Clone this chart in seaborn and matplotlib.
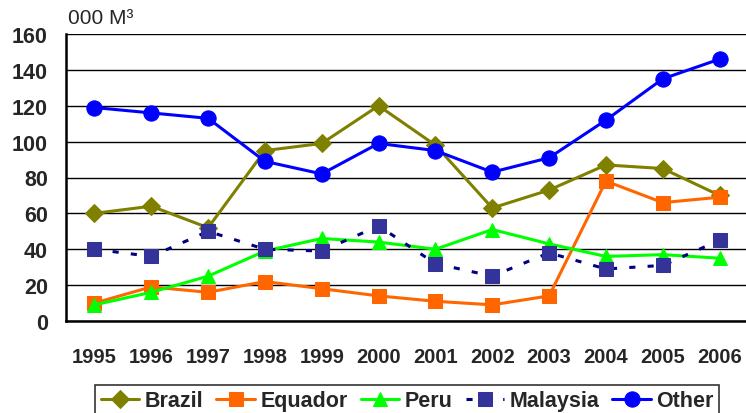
import matplotlib
matplotlib.use('Agg')
import matplotlib.pyplot as plt
import pandas as pd
import seaborn as sns

years = [1995, 1996, 1997, 1998, 1999, 2000, 2001, 2002, 2003, 2004, 2005, 2006]
brazil = [60, 64, 52, 95, 99, 120, 98, 63, 73, 87, 85, 70]
equador = [10, 19, 16, 22, 18, 14, 11, 9, 14, 78, 66, 69]
peru = [9, 16, 25, 39, 46, 44, 40, 51, 43, 36, 37, 35]
malaysia = [40, 36, 50, 40, 39, 53, 32, 25, 38, 29, 31, 45]
other = [119, 116, 113, 89, 82, 99, 95, 83, 91, 112, 135, 146]

series = {'Brazil': brazil, 'Equador': equador, 'Peru': peru,
          'Malaysia': malaysia, 'Other': other}
df = pd.concat([pd.DataFrame({'year': years, 'value': v, 'country': k})
                for k, v in series.items()], ignore_index=True)

sns.set_style('white')
plt.rcParams['font.family'] = ['Liberation Sans', 'DejaVu Sans']

line_colors = {'Brazil': '#808000', 'Equador': '#FF6600', 'Peru': '#00FF00',
               'Malaysia': '#000080', 'Other': '#0000FF'}
face_colors = {'Brazil': '#808000', 'Equador': '#FF6600', 'Peru': '#00FF00',
               'Malaysia': '#333399', 'Other': '#0000FF'}
markers = {'Brazil': 'D', 'Equador': 's', 'Peru': '^', 'Malaysia': 's', 'Other': 'o'}
msize = {'Brazil': 9, 'Equador': 10, 'Peru': 10, 'Malaysia': 10.5, 'Other': 11}

fig = plt.figure(figsize=(7.46, 4.14), dpi=100)
ax = fig.add_axes([66 / 746, 92 / 414, 682 / 746, 287 / 414])

for name in series:
    sub = df[df['country'] == name]
    sns.lineplot(data=sub, x='year', y='value', ax=ax, color=line_colors[name],
                 marker=markers[name], markersize=msize[name],
                 markerfacecolor=face_colors[name], markeredgecolor=face_colors[name],
                 linewidth=2.2, label=name,
                 linestyle=(0, (2, 4)) if name == 'Malaysia' else '-',
                 clip_on=False, zorder=3)

ax.set_xlim(1994.5, 2006.5)
ax.set_ylim(0, 160)
ax.set_yticks(range(0, 161, 20))
ax.set_xticks(years)
ax.set_xticks([y - 0.5 for y in years] + [2006.5], minor=True)
ax.tick_params(axis='x', which='major', length=0, pad=19, labelsize=14.5)
ax.tick_params(axis='x', which='minor', length=6, width=1.2, direction='out', color='black')
ax.tick_params(axis='y', length=6, width=1.2, direction='out', color='black',
               labelsize=15.5, pad=7)
for lab in ax.get_xticklabels() + ax.get_yticklabels():
    lab.set_fontweight('bold')
ax.yaxis.grid(True, color='black', linewidth=1)
ax.set_axisbelow(True)
for s in ['top', 'right']:
    ax.spines[s].set_visible(False)
for s in ['left', 'bottom']:
    ax.spines[s].set_color('black')
    ax.spines[s].set_linewidth(1.8)
ax.set_xlabel('')
ax.set_ylabel('')
fig.text(68 / 746, 1 - 18 / 414, '000 M\u00b3', fontsize=15, va='center', ha='left')

handles, labels = ax.get_legend_handles_labels()
ax.get_legend().remove()
leg = fig.legend(handles, labels, loc='upper center', ncol=5,
                 bbox_to_anchor=(0.546, 28 / 414), frameon=True, fancybox=False,
                 edgecolor='black', handlelength=1.8, columnspacing=0.6,
                 handletextpad=0.25, borderpad=0.25, borderaxespad=0,
                 prop={'weight': 'bold', 'size': 15.5})
leg.get_frame().set_linewidth(1.2)

fig.savefig('out.png', dpi=100)
